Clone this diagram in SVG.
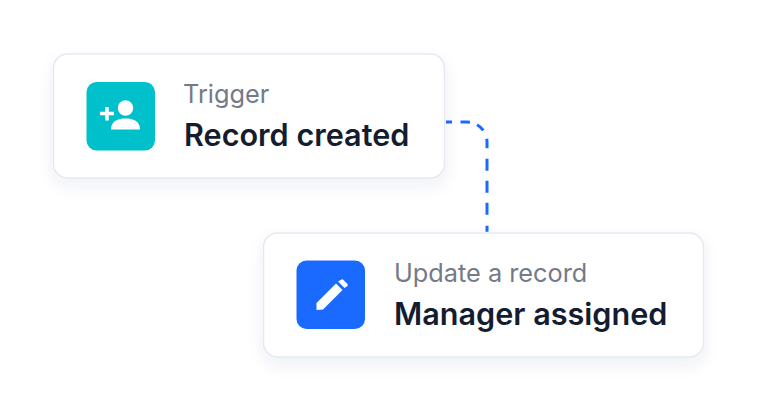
<svg xmlns="http://www.w3.org/2000/svg" width="757" height="410" viewBox="0 0 757 410">
<style>
.card{fill:#fff;stroke:#e6e9f3;stroke-width:1.5}
.sub{font-family:Inter,"Liberation Sans",sans-serif;font-size:25.3px;fill:#747a88}
.main{font-family:Inter,"Liberation Sans",sans-serif;font-size:30.6px;font-weight:600;fill:#141d30}
.conn{fill:none;stroke:#1a6aff;stroke-width:3;stroke-dasharray:6 8.500 9.500 7.500 8.400 9 9.600 10.500 12 10 12 10 12 11 6 20}
</style>
<defs>
<filter id="sh" x="-15%" y="-25%" width="130%" height="160%"><feDropShadow dx="0" dy="7" stdDeviation="8" flood-color="#27336b" flood-opacity="0.07"/></filter>
</defs>
<rect width="757" height="410" fill="#fff"/>
<g id="connectors"><path class="conn" d="M446 122H467A20 20 0 0 1 487 142V232"/></g>
<g id="node-trigger">
<rect class="card" filter="url(#sh)" x="53.500" y="54" width="391" height="124" rx="14"/>
<rect x="86.500" y="82" width="68.500" height="68.500" rx="10" fill="#00c0cb"/>
<circle cx="125.500" cy="108" r="7.700" fill="#fff"/>
<path d="M111 129.500C111 121 118 118.500 125.500 118.500S140 121 140 129.500Z" fill="#fff"/>
<path d="M100 113.500H114M107 107V120.500" stroke="#fff" stroke-width="3.600" fill="none"/>
<text class="sub" x="183" y="103">Trigger</text>
<text class="main" x="184" y="145.500">Record created</text>
</g>
<g id="node-update">
<rect class="card" filter="url(#sh)" x="263.500" y="233" width="440" height="124" rx="14"/>
<rect x="296.500" y="260.500" width="68.500" height="68.500" rx="10" fill="#1a6aff"/>
<path d="M316.500 303L336 283.500L342.500 290L323 309.500L316.500 310Z" fill="#fff"/>
<path d="M338 281.500L341.500 279.500Q342.500 279 343.500 280L347.500 284Q348 285 347.500 286L344.500 288Z" fill="#fff"/>
<text class="sub" x="394" y="282">Update a record</text>
<text class="main" x="394" y="324.500">Manager assigned</text>
</g>
</svg>
